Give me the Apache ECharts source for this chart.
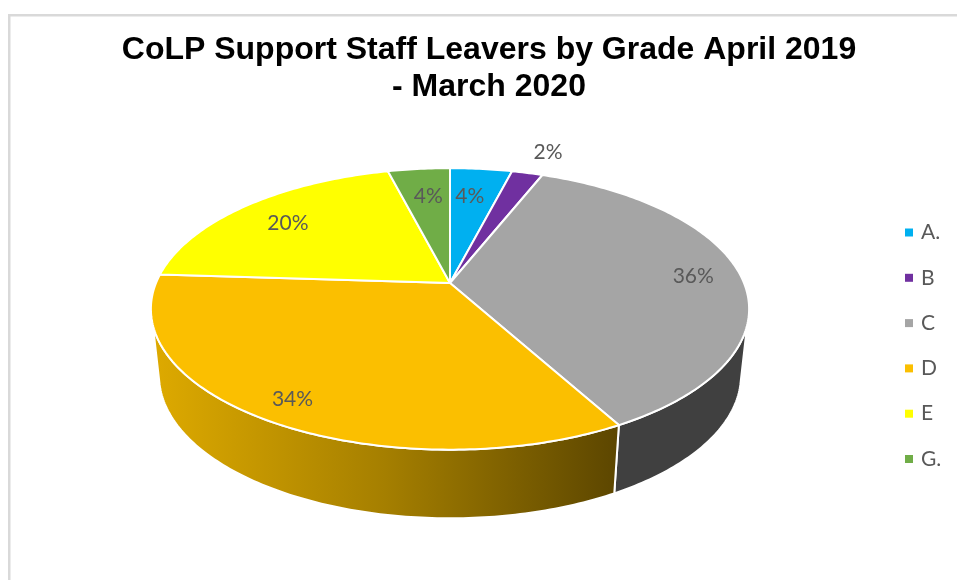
<!DOCTYPE html>
<html><head><meta charset="utf-8">
<style>html,body{margin:0;padding:0;background:#fff}#c{width:957px;height:580px}</style>
<script src="https://cdn.jsdelivr.net/npm/echarts@6/dist/echarts.min.js"></script>
</head><body><div id="c"></div>
<script>
const categories = ['A.', 'B', 'C', 'D', 'E', 'G.'];
const shares = [4, 2, 36, 34, 20, 4];
const sliceColors = ['#00B0F0', '#7030A0', '#A5A5A5', '#FBBF00', '#FFFF00', '#70AD47'];
const labelReach = [0.73, 1.23, 0.83, 0.875, 0.755, 0.73];
const labelNudge = [-4, 6, 2, 2, -5, 2];
const titleText = 'CoLP Support Staff Leavers by Grade April 2019\n- March 2020';

const total = shares.reduce((a, b) => a + b, 0);
const starts = [];
shares.reduce((acc, v, i) => { starts[i] = acc; return acc + v; }, 0);
const toAngle = v => echarts.number.linearMap(v, [0, total], [0, Math.PI * 2]);

// perspective disc: top face and lower rim
const K = 0.184;
const TOP = { x: 450, y: 283, rx: 294, ry: 136 };
const LOW = { x: 450, y: 349.2, rx: 286, ry: 138 };
function project(f, a, r) {
  r = r === undefined ? 1 : r;
  const w = 1 + K * r * Math.cos(a);
  return [f.x + f.rx * r * Math.sin(a) / w, f.y - f.ry * r * Math.cos(a) / w];
}
function arc(f, a0, a1) {
  const n = Math.max(2, Math.ceil(Math.abs(a1 - a0) / 0.015)), pts = [];
  for (let i = 0; i <= n; i++) pts.push(project(f, a0 + (a1 - a0) * i / n));
  return pts;
}
const WALL_TOP = [107 * Math.PI / 180, 253 * Math.PI / 180];
const WALL_LOW = [104 * Math.PI / 180, 256 * Math.PI / 180];
const wallFill = {
  2: '#404040',
  3: new echarts.graphic.LinearGradient(152, 0, 618, 0, [
    { offset: 0, color: '#DEAA00' }, { offset: 0.5, color: '#A57F00' }, { offset: 1, color: '#5C4600' }
  ], true)
};

function renderSlice(params, api) {
  const idx = params.seriesIndex;
  const value = api.value(0), start = api.value(1);
  const a0 = toAngle(start), a1 = toAngle(start + value), mid = (a0 + a1) / 2;
  const children = [];
  const t0 = Math.max(a0, WALL_TOP[0]), t1 = Math.min(a1, WALL_TOP[1]);
  if (t1 > t0) {
    const l0 = Math.max(a0, WALL_LOW[0]), l1 = Math.min(a1, WALL_LOW[1]);
    children.push({
      type: 'polygon', z2: 1,
      shape: { points: arc(TOP, t0, t1).concat(arc(LOW, l1, l0)) },
      style: { fill: wallFill[idx], stroke: '#ffffff', lineWidth: 2 }
    });
  }
  children.push({
    type: 'polygon', z2: 5,
    shape: { points: [[TOP.x, TOP.y]].concat(arc(TOP, a0, a1)) },
    style: { fill: sliceColors[idx], stroke: '#ffffff', lineWidth: 2, lineJoin: 'round' }
  });
  const p = project(TOP, mid, labelReach[idx]);
  children.push({
    type: 'text', z2: 10, x: p[0] + labelNudge[idx], y: p[1],
    style: {
      text: Math.round(value / total * 100) + '%', align: 'center', verticalAlign: 'middle',
      fill: '#595959', font: '21px Lato'
    }
  });
  return { type: 'group', children };
}

const chart = echarts.init(document.getElementById('c'), null, { renderer: 'canvas' });
chart.setOption({
  animation: false,
  backgroundColor: '#fff',
  title: {
    text: titleText, left: 484, top: 27, textAlign: 'center',
    textStyle: { fontFamily: 'Liberation Sans', fontWeight: 'bold', fontSize: 32, lineHeight: 37, color: '#000' }
  },
  legend: {
    orient: 'vertical', left: 900, top: 217, selectedMode: false,
    data: categories, icon: 'rect', itemWidth: 8, itemHeight: 8, itemGap: 24.3,
    textStyle: { fontFamily: 'Lato', fontSize: 21, color: '#595959', padding: [0, 0, 0, 3] }
  },
  graphic: [
    { type: 'rect', z: -1, shape: { x: 8, y: 14, width: 949, height: 2.5 }, style: { fill: '#D9D9D9' } },
    { type: 'rect', z: -1, shape: { x: 8, y: 14, width: 2.5, height: 566 }, style: { fill: '#D9D9D9' } }
  ],
  series: categories.map((name, i) => ({
    type: 'custom', name, coordinateSystem: 'none', renderItem: renderSlice,
    itemStyle: { color: sliceColors[i] },
    data: [[shares[i], starts[i]]],
    silent: true
  }))
});
</script></body></html>
